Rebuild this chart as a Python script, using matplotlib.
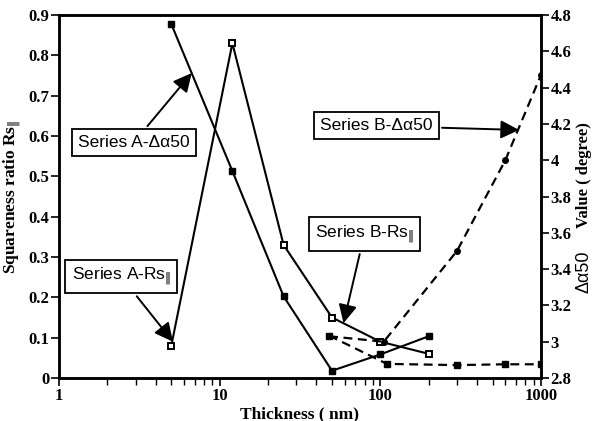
import matplotlib
matplotlib.use("Agg")
import matplotlib.pyplot as plt
from matplotlib.ticker import FixedLocator, LogLocator, NullFormatter, FuncFormatter
import numpy as np

# Series A (solid lines)
a_thick = [5, 12, 25, 50, 100, 200]
a_rs = [0.08, 0.83, 0.33, 0.15, 0.09, 0.06]
a_dalpha = [4.75, 3.94, 3.25, 2.84, 2.93, 3.03]

# Series B (dashed lines)
b_thick_rs = [48, 110, 300, 600, 1000]
b_rs = [0.105, 0.035, 0.032, 0.034, 0.034]
b_thick_da = [48, 105, 300, 600, 1000]
b_dalpha = [3.03, 3.0, 3.5, 4.0, 4.47]

left_ticks = [0, 0.1, 0.2, 0.3, 0.4, 0.5, 0.6, 0.7, 0.8, 0.9]
right_ticks = [2.8, 3.0, 3.2, 3.4, 3.6, 3.8, 4.0, 4.2, 4.4, 4.6, 4.8]
x_ticks = [1, 10, 100, 1000]

serif = "Liberation Serif"
sans = "Liberation Sans"

fig = plt.figure(figsize=(5.92, 4.21), dpi=100)
ax = fig.add_axes([59/592, 43/421, 482/592, 363/421])
ax2 = ax.twinx()

ax.plot(a_thick, a_rs, color="black", lw=1.5, marker="s", ms=5,
        mfc="white", mec="black", mew=1.4, zorder=3)
ax.plot(b_thick_rs, b_rs, color="black", lw=1.6, ls=(0, (4, 2.5)),
        marker="s", ms=4.5, mfc="black", mec="black", zorder=3)
ax2.plot(a_thick, a_dalpha, color="black", lw=1.5, marker="s", ms=5,
         mfc="black", mec="black", zorder=3)
ax2.plot(b_thick_da, b_dalpha, color="black", lw=1.6, ls=(0, (4, 2.5)),
         marker="o", ms=4, mfc="black", mec="black", zorder=3)

ax.set_xscale("log")
ax.set_xlim(1, 1000)
ax.set_ylim(0, 0.9)
ax2.set_ylim(2.8, 4.8)

ax.xaxis.set_major_locator(FixedLocator(x_ticks))
ax.xaxis.set_minor_locator(LogLocator(base=10, subs=np.arange(2, 10)))
ax.xaxis.set_minor_formatter(NullFormatter())
ax.xaxis.set_major_formatter(FuncFormatter(lambda v, p: "%g" % v))
ax.yaxis.set_major_locator(FixedLocator(left_ticks))
ax.yaxis.set_major_formatter(FuncFormatter(lambda v, p: "%g" % v))
ax2.yaxis.set_major_locator(FixedLocator(right_ticks))
ax2.yaxis.set_major_formatter(FuncFormatter(lambda v, p: "%g" % round(v, 1)))

for a in (ax, ax2):
    a.tick_params(which="major", length=6, width=1.2, labelsize=12, pad=1)
    a.tick_params(which="minor", length=5, width=1.0)
    for lab in a.get_xticklabels() + a.get_yticklabels():
        lab.set_fontfamily(serif)
        lab.set_fontweight("bold")
    for s in a.spines.values():
        s.set_linewidth(1.8)

ax.set_xlabel("Thickness ( nm)", fontfamily=serif, fontweight="bold",
              fontsize=12.5, labelpad=2)
ax.set_ylabel(r"Squareness ratio Rs$_{\|}$", fontfamily=serif,
              fontweight="bold", fontsize=12.5, labelpad=4)

fig.text(0.986, 0.585, "Value ( degree)", rotation=90, ha="center",
         va="center", fontfamily=serif, fontweight="bold", fontsize=12)
fig.text(0.986, 0.355, "\u0394\u03b150", rotation=90, ha="center",
         va="center", fontfamily=sans, fontsize=13)

box = dict(boxstyle="square,pad=0.35", fc="white", ec="black", lw=1.3)
arrow = dict(arrowstyle="-|>", color="black", lw=1.4, mutation_scale=28,
             shrinkB=0)
notes = [
    ("Series A-\u0394\u03b150", (6.7, 0.756), (2.92, 0.584)),
    (r"Series A-Rs$_{\|}$", (5.12, 0.09), (2.44, 0.251)),
    ("Series B-\u0394\u03b150", (730, 0.615), (94.3, 0.625)),
    (r"Series B-Rs$_{\|}$", (59, 0.136), (79.6, 0.357)),
]
for txt, tip, pos in notes:
    ax2.annotate(txt, xy=tip, xytext=pos, xycoords=ax.transData,
                 textcoords=ax.transData, ha="center", va="center",
                 fontfamily=sans, fontsize=12.5, bbox=box, arrowprops=arrow,
                 zorder=5)

fig.savefig("out.png", dpi=100)
